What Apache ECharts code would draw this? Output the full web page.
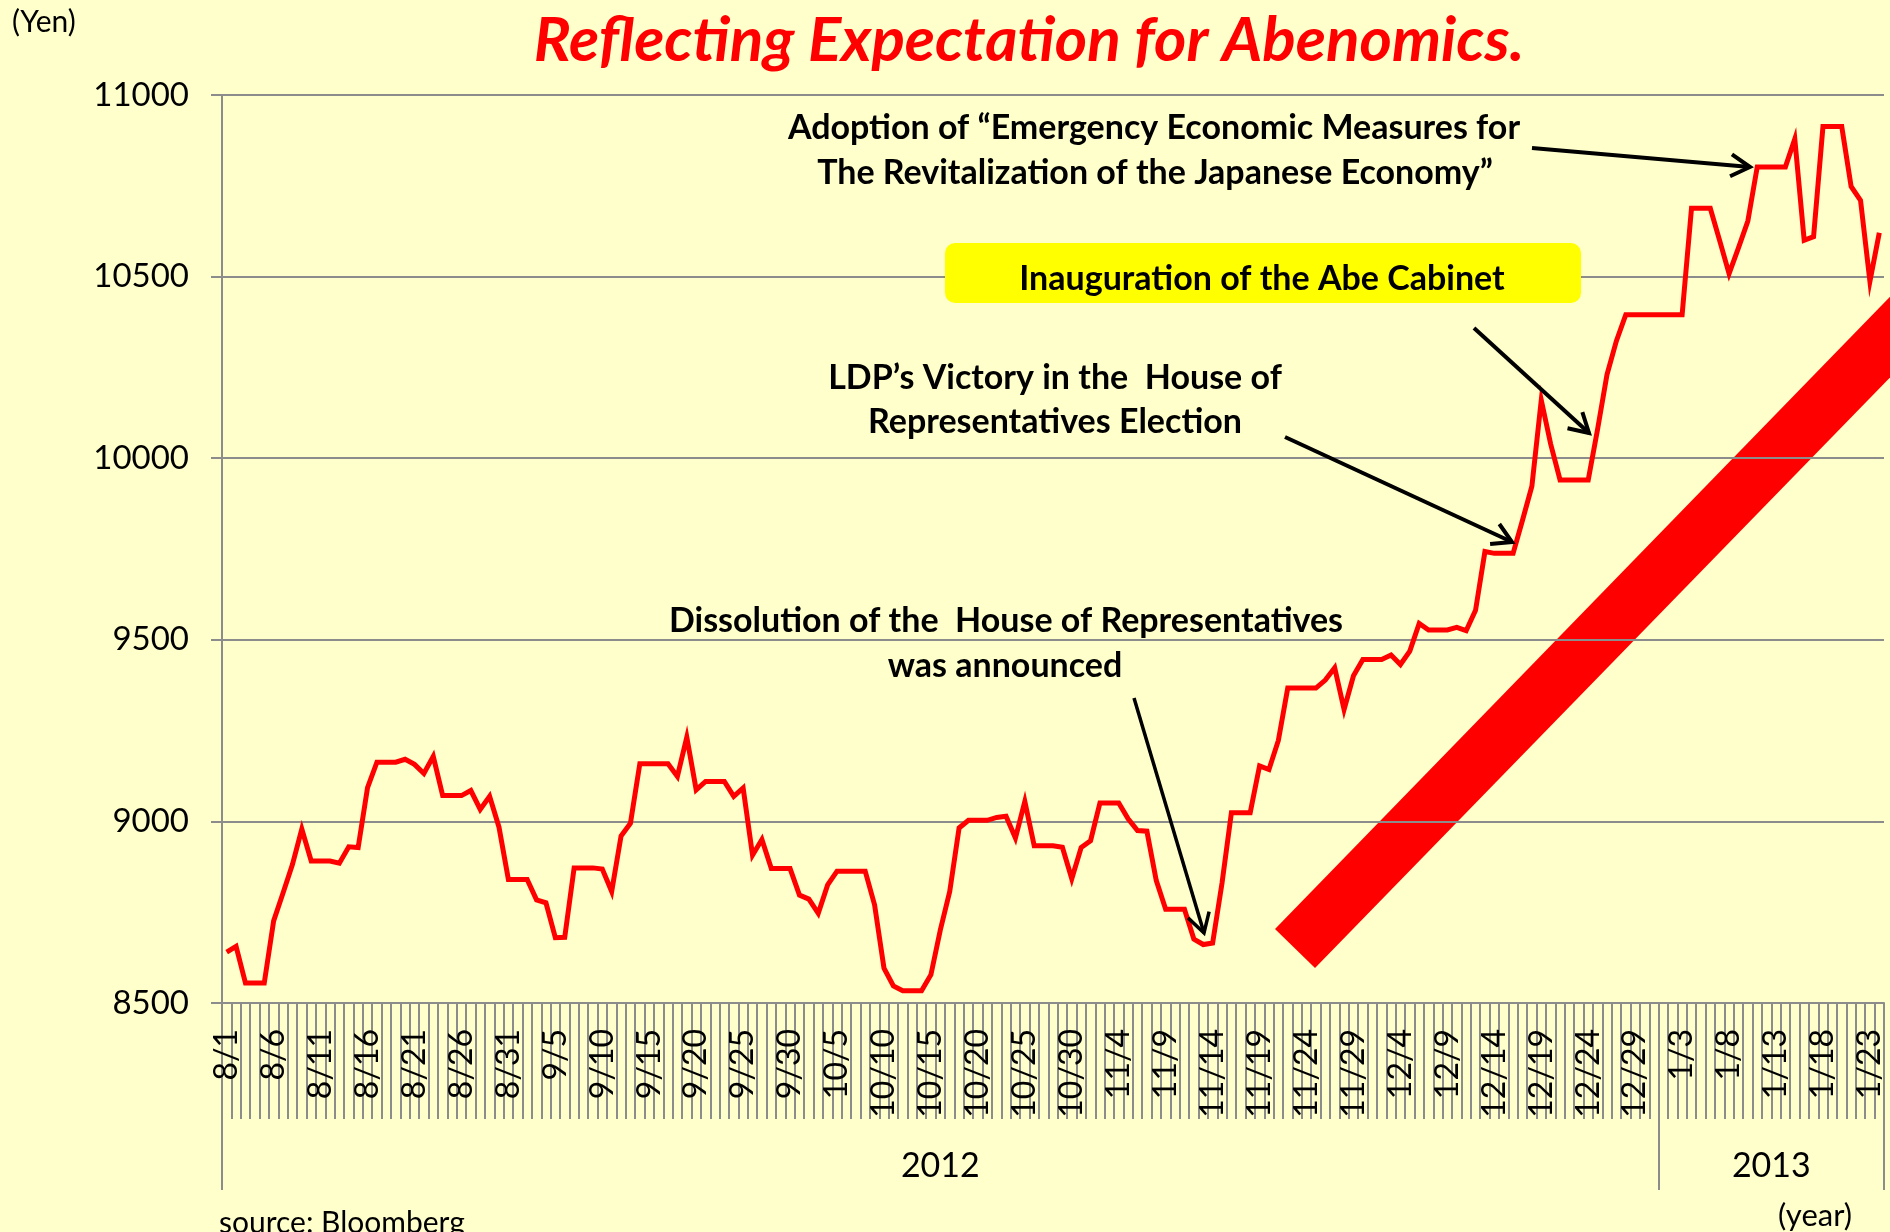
<!DOCTYPE html>
<html>
<head>
<meta charset="utf-8">
<script src="https://cdn.jsdelivr.net/npm/echarts@6/dist/echarts.min.js"></script>
<style>
html,body{margin:0;padding:0;background:#FFFFCC;}
#chart{width:1890px;height:1232px;}
</style>
</head>
<body>
<div id="chart"></div>
<script>
// ---- Data (Nikkei 225 close, calendar days; non-trading days carry the previous close as drawn) ----
const categories = [
"8/1","8/2","8/3","8/4","8/5","8/6","8/7","8/8","8/9","8/10","8/11","8/12","8/13","8/14","8/15","8/16","8/17","8/18","8/19","8/20","8/21","8/22","8/23","8/24","8/25","8/26","8/27","8/28","8/29","8/30","8/31",
"9/1","9/2","9/3","9/4","9/5","9/6","9/7","9/8","9/9","9/10","9/11","9/12","9/13","9/14","9/15","9/16","9/17","9/18","9/19","9/20","9/21","9/22","9/23","9/24","9/25","9/26","9/27","9/28","9/29","9/30",
"10/1","10/2","10/3","10/4","10/5","10/6","10/7","10/8","10/9","10/10","10/11","10/12","10/13","10/14","10/15","10/16","10/17","10/18","10/19","10/20","10/21","10/22","10/23","10/24","10/25","10/26","10/27","10/28","10/29","10/30","10/31",
"11/1","11/2","11/3","11/4","11/5","11/6","11/7","11/8","11/9","11/10","11/11","11/12","11/13","11/14","11/15","11/16","11/17","11/18","11/19","11/20","11/21","11/22","11/23","11/24","11/25","11/26","11/27","11/28","11/29","11/30",
"12/1","12/2","12/3","12/4","12/5","12/6","12/7","12/8","12/9","12/10","12/11","12/12","12/13","12/14","12/15","12/16","12/17","12/18","12/19","12/20","12/21","12/22","12/23","12/24","12/25","12/26","12/27","12/28","12/29","12/30","12/31",
"1/1","1/2","1/3","1/4","1/5","1/6","1/7","1/8","1/9","1/10","1/11","1/12","1/13","1/14","1/15","1/16","1/17","1/18","1/19","1/20","1/21","1/22","1/23","1/24"
];

const nikkeiAug = [8640,8656,8555,8555,8555,8726,8803,8881,8979,8891,8891,8891,8885,8930,8928,9093,9163,9163,9163,9171,9157,9132,9179,9071,9071,9071,9085,9033,9069,8984,8840];
const nikkeiSep = [8840,8840,8784,8776,8680,8681,8872,8872,8872,8869,8807,8960,8995,9159,9159,9159,9159,9124,9232,9087,9110,9110,9110,9069,9092,8907,8950,8870,8870,8870];
const nikkeiOct = [8797,8786,8747,8825,8863,8863,8863,8863,8770,8596,8547,8534,8534,8534,8578,8701,8807,8982,9003,9003,9003,9011,9014,8954,9055,8933,8933,8933,8929,8842,8928];
const nikkeiNov = [8947,9051,9051,9051,9007,8975,8973,8837,8758,8758,8758,8676,8661,8665,8830,9024,9024,9024,9153,9143,9223,9367,9367,9367,9367,9389,9423,9308,9401,9446];
const nikkeiDec = [9446,9446,9458,9432,9469,9545,9527,9527,9527,9534,9525,9581,9743,9738,9738,9738,9829,9923,10160,10039,9940,9940,9940,9940,10080,10230,10323,10395,10395,10395,10395];
const nikkeiJan = [10395,10395,10395,10688,10688,10688,10599,10508,10579,10653,10802,10802,10802,10802,10879,10600,10610,10913,10913,10913,10748,10710,10487,10621];

const yAxisMin = 8500, yAxisMax = 11000, yAxisStep = 500;
const yearLabels = ["2012", "2013"];
const yearBoundaries = [0, 153, 177];   // category index where each year starts / ends

const nikkei = [].concat(nikkeiAug, nikkeiSep, nikkeiOct, nikkeiNov, nikkeiDec, nikkeiJan);

// ---- Helpers for annotation graphics ----
const FONT = 'Lato, "Open Sans", sans-serif';
function txt(x, y, text, font, fill, align) {
  return { type: 'text', x: x, y: y, z: 50,
    style: { text: text, font: font, fill: fill || '#000', align: align || 'center', verticalAlign: 'middle' } };
}
function arrow(x1, y1, x2, y2, w) {
  const ang = Math.atan2(y2 - y1, x2 - x1), L = 22, a = Math.PI / 180 * 30;
  const p1 = [x2 - L * Math.cos(ang - a), y2 - L * Math.sin(ang - a)];
  const p2 = [x2 - L * Math.cos(ang + a), y2 - L * Math.sin(ang + a)];
  return [
    { type: 'polyline', z: 50, shape: { points: [[x1, y1], [x2, y2]] }, style: { stroke: '#000', lineWidth: w, fill: null } },
    { type: 'polyline', z: 50, shape: { points: [p1, [x2, y2], p2] }, style: { stroke: '#000', lineWidth: w, fill: null, lineJoin: 'miter' } }
  ];
}

const yearMid = yearLabels.map((_, i) => (yearBoundaries[i] + yearBoundaries[i + 1]) / 2);

const chart = echarts.init(document.getElementById('chart'), null, { renderer: 'canvas' });

const ANN = 'bold 34px ' + FONT;
const graphics = [
  // big red rising band (decoration), drawn beneath grid lines
  { type: 'polygon', z: -10, zlevel: 0,
    shape: { points: [[1275, 929], [1950, 235], [1950, 316], [1315, 968]] },
    style: { fill: '#FF0000' } },
  txt(1029, 41, 'Reflecting Expectation for Abenomics.', 'italic bold 62px ' + FONT, '#FF0000'),
  txt(12, 22, '(Yen)', '30px ' + FONT, '#000', 'left'),
  txt(219, 1223, 'source: Bloomberg', '30px ' + FONT, '#000', 'left'),
  txt(1815, 1216, '(year)', '31px ' + FONT, '#000'),
  // annotations
  txt(1154, 128, 'Adoption of \u201CEmergency Economic Measures for', ANN),
  txt(1155, 173, 'The Revitalization of the Japanese Economy\u201D', ANN),
  { type: 'rect', z: 40, shape: { x: 945, y: 243, width: 636, height: 60, r: 10 }, style: { fill: '#FFFF00' } },
  txt(1262, 279, 'Inauguration of the Abe Cabinet', ANN),
  txt(1055, 378, 'LDP\u2019s Victory in the  House of', ANN),
  txt(1055, 422, 'Representatives Election', ANN),
  txt(1006, 621, 'Dissolution of the  House of Representatives', ANN),
  txt(1005, 666, 'was announced', ANN)
].concat(
  arrow(1532, 148, 1750, 167, 4),
  arrow(1474, 328, 1589, 433, 4),
  arrow(1285, 437, 1512, 542, 4),
  arrow(1134, 698, 1204, 933, 3.5)
);

const option = {
  backgroundColor: '#FFFFCC',
  animation: false,
  grid: { left: 222, right: 6, top: 95, bottom: 229, containLabel: false },
  xAxis: [
    {
      type: 'category',
      data: categories,
      boundaryGap: true,
      position: 'bottom',
      axisLine: { show: true, lineStyle: { color: '#8c8c8c', width: 2 } },
      axisTick: { show: true, interval: 0, length: 116, lineStyle: { color: '#8c8c8c', width: 2 } },
      axisLabel: { interval: 4, rotate: 90, margin: 26, color: '#000', fontFamily: FONT, fontSize: 32 },
      splitLine: { show: false }
    },
    {
      type: 'value',
      min: yearBoundaries[0],
      max: yearBoundaries[yearBoundaries.length - 1],
      position: 'bottom',
      offset: 0,
      axisLine: { show: false },
      axisTick: { show: true, customValues: yearBoundaries, length: 187, lineStyle: { color: '#8c8c8c', width: 2 } },
      axisLabel: {
        customValues: yearMid, margin: 146, color: '#000', fontFamily: FONT, fontSize: 34,
        formatter: function (v) { const i = yearMid.indexOf(v); return i >= 0 ? yearLabels[i] : ''; }
      },
      splitLine: { show: false }
    }
  ],
  yAxis: {
    type: 'value',
    min: yAxisMin, max: yAxisMax, interval: yAxisStep,
    axisLine: { show: true, lineStyle: { color: '#8c8c8c', width: 2 } },
    axisTick: { show: true, length: 11, lineStyle: { color: '#8c8c8c', width: 2 } },
    axisLabel: { margin: 33, color: '#000', fontFamily: FONT, fontSize: 33,
      formatter: function (v) { return String(v); } },
    splitLine: { show: true, lineStyle: { color: '#8c8c8c', width: 2 } }
  },
  series: [{
    type: 'line',
    data: nikkei,
    xAxisIndex: 0,
    showSymbol: false,
    symbol: 'none',
    smooth: false,
    z: 20,
    lineStyle: { color: '#FF0000', width: 5, join: 'miter' }
  }],
  graphic: { elements: graphics }
};

chart.setOption(option);
</script>
</body>
</html>
